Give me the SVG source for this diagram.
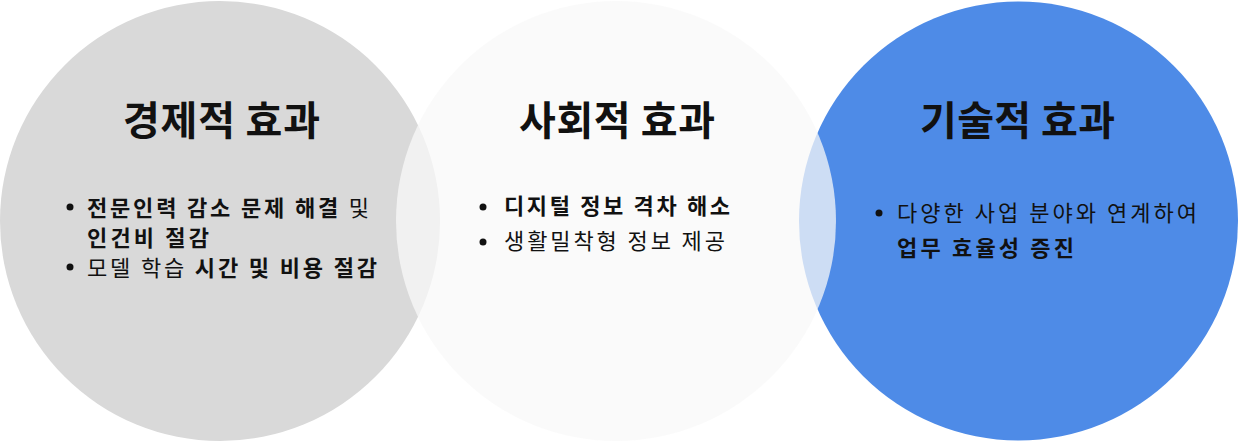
<svg xmlns="http://www.w3.org/2000/svg" width="1239" height="442" viewBox="0 0 1239 442">
<style>
text{font-family:"Noto Sans CJK KR","Noto Sans",sans-serif;fill:#111}
.t{font-size:40px;font-weight:700}
.b{font-size:22px;font-weight:400}
.s{font-weight:700}
.dot{fill:#111}
</style>
<rect width="1239" height="442" fill="#ffffff"/>
<g id="economic">
<circle cx="220" cy="221" r="220" fill="#d9d9d9"/>
</g>
<g id="technical">
<circle cx="1018.5" cy="221" r="219.5" fill="#4e8be7"/>
</g>
<g id="social">
<circle cx="616" cy="221" r="220" fill="#f8f8f8" fill-opacity="0.75"/>
</g>
<g id="economic-text">
<text class="t" x="123" y="135" textLength="197" lengthAdjust="spacing">경제적 효과</text>
<circle class="dot" cx="70" cy="207" r="3.5"/>
<text class="b" x="87" y="216" textLength="282" lengthAdjust="spacing"><tspan class="s">전문인력 감소 문제 해결</tspan> 및</text>
<text class="b s" x="87" y="246" textLength="122" lengthAdjust="spacing">인건비 절감</text>
<circle class="dot" cx="70" cy="267" r="3.5"/>
<text class="b" x="87" y="276" textLength="290" lengthAdjust="spacing">모델 학습 <tspan class="s">시간 및 비용 절감</tspan></text>
</g>
<g id="social-text">
<text class="t" x="519" y="135" textLength="196" lengthAdjust="spacing">사회적 효과</text>
<circle class="dot" cx="483" cy="207" r="3.5"/>
<text class="b s" x="504" y="214" textLength="226" lengthAdjust="spacing">디지털 정보 격차 해소</text>
<circle class="dot" cx="483" cy="242" r="3.5"/>
<text class="b" x="504" y="249" textLength="221" lengthAdjust="spacing">생활밀착형 정보 제공</text>
</g>
<g id="technical-text">
<text class="t" x="920" y="135" textLength="195" lengthAdjust="spacing">기술적 효과</text>
<circle class="dot" cx="879" cy="213" r="3.5"/>
<text class="b" x="897" y="221" textLength="300" lengthAdjust="spacing">다양한 사업 분야와 연계하여</text>
<text class="b s" x="897" y="256" textLength="177" lengthAdjust="spacing">업무 효율성 증진</text>
</g>
<g id="connectors"></g>
</svg>
